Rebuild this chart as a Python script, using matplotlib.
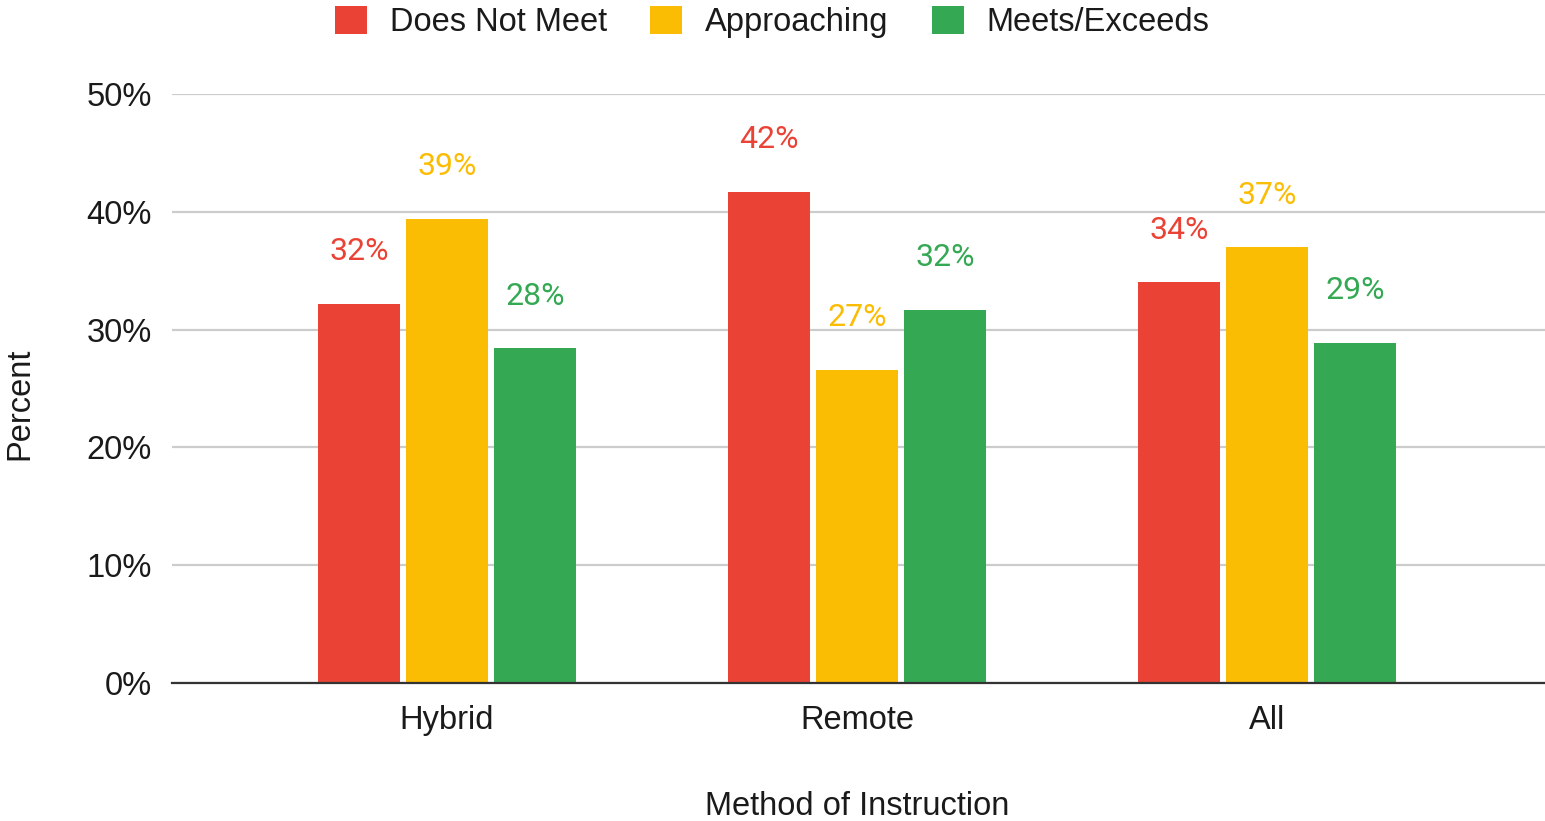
import matplotlib
matplotlib.use("Agg")
import matplotlib.pyplot as plt
from matplotlib.patches import Patch
from matplotlib.ticker import FuncFormatter

categories = ["Hybrid", "Remote", "All"]
series_names = ["Does Not Meet", "Approaching", "Meets/Exceeds"]
does_not_meet = [32.2, 41.7, 34.0]
approaching = [39.4, 26.6, 37.0]
meets_exceeds = [28.4, 31.7, 28.9]
label_dnm = ["32%", "42%", "34%"]
label_app = ["39%", "27%", "37%"]
label_me = ["28%", "32%", "29%"]
y_ticks = [0, 10, 20, 30, 40, 50]

colors = ["#EA4335", "#FBBC04", "#34A853"]
FS = 23.5
plt.rcParams['font.family'] = ['Liberation Sans', 'DejaVu Sans']

fig = plt.figure(figsize=(15.45, 8.21), dpi=100)
ax = fig.add_axes([172/1545, 1-683/821, 1-172/1545, (683-94)/821])

x = list(range(len(categories)))
width = 0.2
offset = 88/410
all_vals = [does_not_meet, approaching, meets_exceeds]
all_labels = [label_dnm, label_app, label_me]
for i, (vals, labs, col) in enumerate(zip(all_vals, all_labels, colors)):
    xs = [xi + (i-1)*offset for xi in x]
    ax.bar(xs, vals, width=width, color=col, zorder=3)
    for xx, v, t in zip(xs, vals, labs):
        ax.annotate(t, xy=(xx, v), xytext=(0, 37.5), textcoords='offset points',
                    ha='center', va='center', color=col, fontsize=23,
                    family=['Roboto', 'DejaVu Sans'], zorder=4)

ax.set_xlim(-275/410, 2 + 278/410)
ax.set_ylim(0, 50)
ax.set_yticks(y_ticks)
ax.yaxis.set_major_formatter(FuncFormatter(lambda v, p: f"{int(v)}%"))
ax.set_xticks(x)
ax.set_xticklabels(categories)
ax.tick_params(axis='both', length=0, labelsize=FS, colors='#1a1a1a')
ax.tick_params(axis='y', pad=14.5)
ax.tick_params(axis='x', pad=16)
ax.grid(axis='y', color='#cccccc', linewidth=1.6, zorder=0)
ax.set_axisbelow(True)
for s in ['top', 'right', 'left']:
    ax.spines[s].set_visible(False)
ax.spines['bottom'].set_color('#333333')
ax.spines['bottom'].set_linewidth(1.6)
ax.spines['bottom'].set_zorder(5)

fig.text(20/1545, 1-404/821, "Percent", rotation=90, ha='center', va='center',
         fontsize=FS, color='#1a1a1a')
fig.text(857/1545, 1-806/821, "Method of Instruction", ha='center', va='center',
         fontsize=FS, color='#1a1a1a')

handles = [Patch(facecolor=c, edgecolor='none', label=n) for c, n in zip(colors, series_names)]
fig.legend(handles=handles, loc='center', bbox_to_anchor=(0.5, 1-22/821), ncol=3,
           frameon=False, fontsize=FS, handlelength=0.98, handleheight=0.98,
           handletextpad=0.7, columnspacing=1.32, borderaxespad=0, borderpad=0,
           labelcolor='#1a1a1a')

fig.savefig("out.png", dpi=100)
